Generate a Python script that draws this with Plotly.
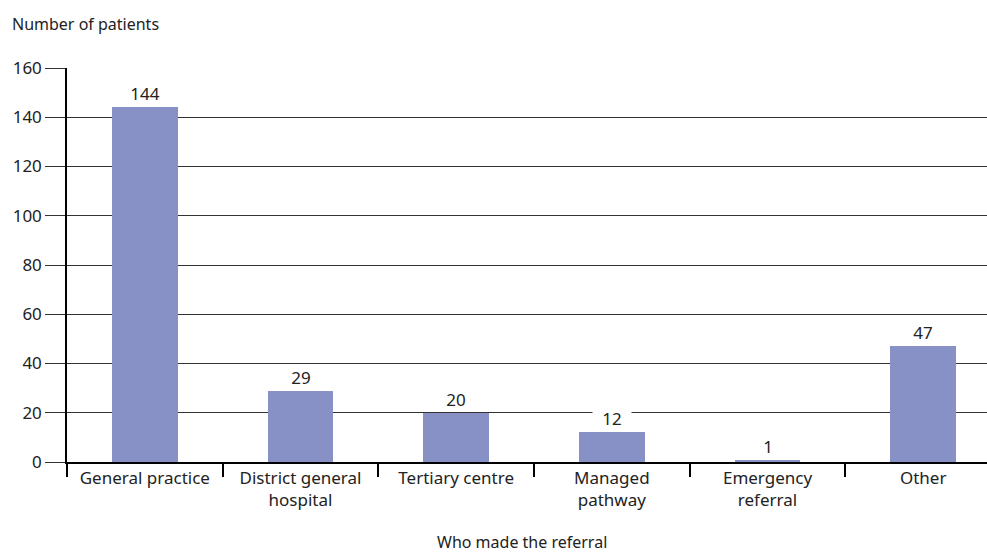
import plotly.graph_objects as go

categories = ["General practice", "District general<br>hospital", "Tertiary centre",
              "Managed<br>pathway", "Emergency<br>referral", "Other"]
patients = [144, 29, 20, 12, 1, 47]
y_ticks = [0, 20, 40, 60, 80, 100, 120, 140, 160]

bar_color = "#8791c5"
font_family = "Noto Sans, Open Sans, sans-serif"
fs = 17

fig = go.Figure()
fig.add_trace(go.Bar(
    x=list(range(len(categories))), y=patients,
    marker=dict(color=bar_color, line=dict(width=0)),
    width=0.42, hoverinfo="skip",
))

for i, v in enumerate(patients):
    fig.add_annotation(x=i, y=v, text=str(v), showarrow=False,
                       yanchor="bottom", yshift=4, bgcolor="white",
                       font=dict(size=fs, color="#222"), borderpad=0,
                       width=38, height=18)

fig.add_annotation(xref="paper", yref="paper", x=0.495, y=0, yshift=-80,
                   text="Who made the referral", showarrow=False,
                   yanchor="middle", font=dict(size=fs - 1, color="#222"))
fig.add_annotation(xref="paper", yref="paper", x=0, xshift=-57, y=1, yshift=44,
                   text="Number of patients", showarrow=False, xanchor="left",
                   yanchor="middle", font=dict(size=fs - 1, color="#222"))

fig.update_layout(
    width=987, height=553,
    margin=dict(l=67, r=0, t=68, b=91, autoexpand=False),
    plot_bgcolor="white", paper_bgcolor="white",
    font=dict(family=font_family, size=fs, color="#222"),
    showlegend=False, bargap=0,
    xaxis=dict(
        type="linear", range=[-0.5, 5.41], automargin=False,
        tickmode="array", tickvals=list(range(len(categories))), ticktext=categories,
        showgrid=False, showline=True, linecolor="black", linewidth=1.5,
        ticks="", zeroline=False, fixedrange=True,
    ),
    yaxis=dict(
        range=[0, 160], tickmode="array", tickvals=y_ticks, automargin=False,
        showgrid=True, gridcolor="#333", gridwidth=1.3,
        showline=True, linecolor="black", linewidth=1.5,
        ticks="outside", ticklen=20, tickcolor="#333", tickwidth=1.3,
        zeroline=False, fixedrange=True,
    ),
)

fig.update_layout(xaxis2=dict(
    overlaying="x", matches="x", side="bottom", anchor="y", automargin=False,
    tickmode="array", tickvals=[i - 0.5 for i in range(len(categories) + 1)],
    ticktext=[""] * (len(categories) + 1),
    ticks="outside", ticklen=14, tickcolor="black", tickwidth=1.5,
    showgrid=False, showline=False, zeroline=False, fixedrange=True,
))
fig.add_trace(go.Scatter(x=[0], y=[0], xaxis="x2", mode="markers",
                         marker=dict(opacity=0), hoverinfo="skip"))

fig.write_html("out.html", config={"displayModeBar": False},
               post_script="document.body.style.margin='0';document.body.style.overflow='hidden';")
